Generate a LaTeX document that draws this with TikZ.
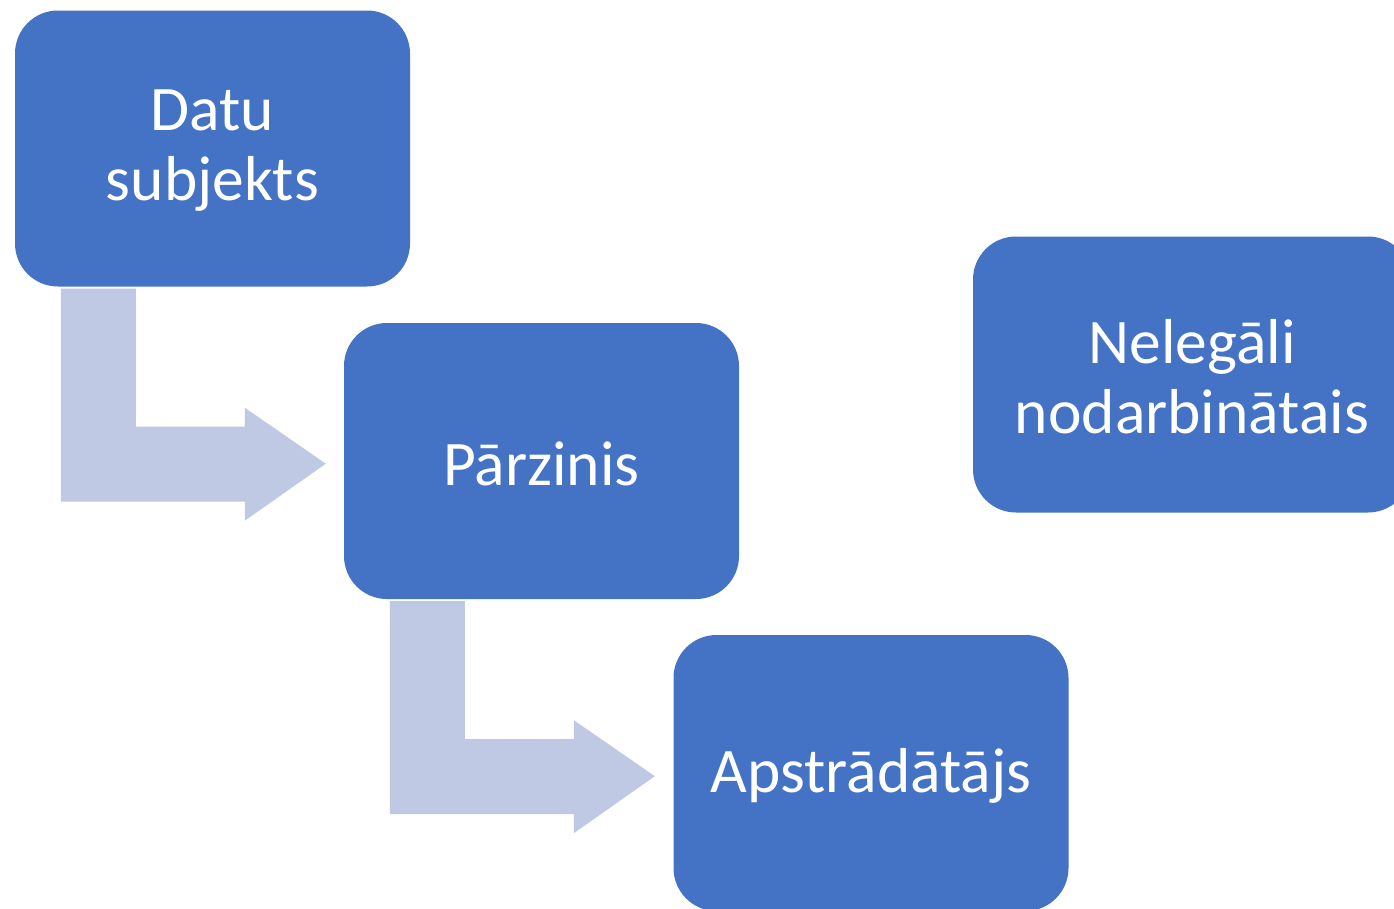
\documentclass[tikz,border=0pt]{standalone}
\usepackage{fontspec}
\setmainfont{Carlito}
\usetikzlibrary{positioning}
\definecolor{boxblue}{HTML}{4472C4}
\definecolor{arrowgrey}{HTML}{BFC9E3}
\newcommand\lowered[1]{\raisebox{-2.5pt}[\height][\depth]{#1}}

\begin{document}
\begin{tikzpicture}[x=1pt,y=-1pt,every node/.style={rectangle,rounded corners=43pt,fill=boxblue,text=white,minimum width=395pt,minimum height=276pt,inner sep=0pt,align=center,font=\fontsize{63.5}{70}\selectfont},bentarrow/.style={fill=arrowgrey}]
\useasboundingbox (0,0) rectangle (1394,908);

\node (ds) at (212.5,148.5) {\lowered{Datu}\\\lowered{subjekts}};
\node (pz) at (541.5,461) {\lowered{Pārzinis}};
\node (ap) at (871,773) {\lowered{Apstrādātājs}};
\node[minimum width=438pt] (nn) at (1192,374.5) {\lowered{Nelegāli}\\\lowered{nodarbinātais}};

\begin{scope}[shift={(ds.south west)}]
\fill[bentarrow] (46,2) -- (121,2) -- (121,140) -- (230,140) -- (230,121) -- (311,177) -- (230,234) -- (230,215) -- (46,215) -- cycle;
\end{scope}
\begin{scope}[shift={(pz.south west)}]
\fill[bentarrow] (46,2) -- (121,2) -- (121,140) -- (230,140) -- (230,121) -- (311,177) -- (230,234) -- (230,215) -- (46,215) -- cycle;
\end{scope}
\end{tikzpicture}
\end{document}
